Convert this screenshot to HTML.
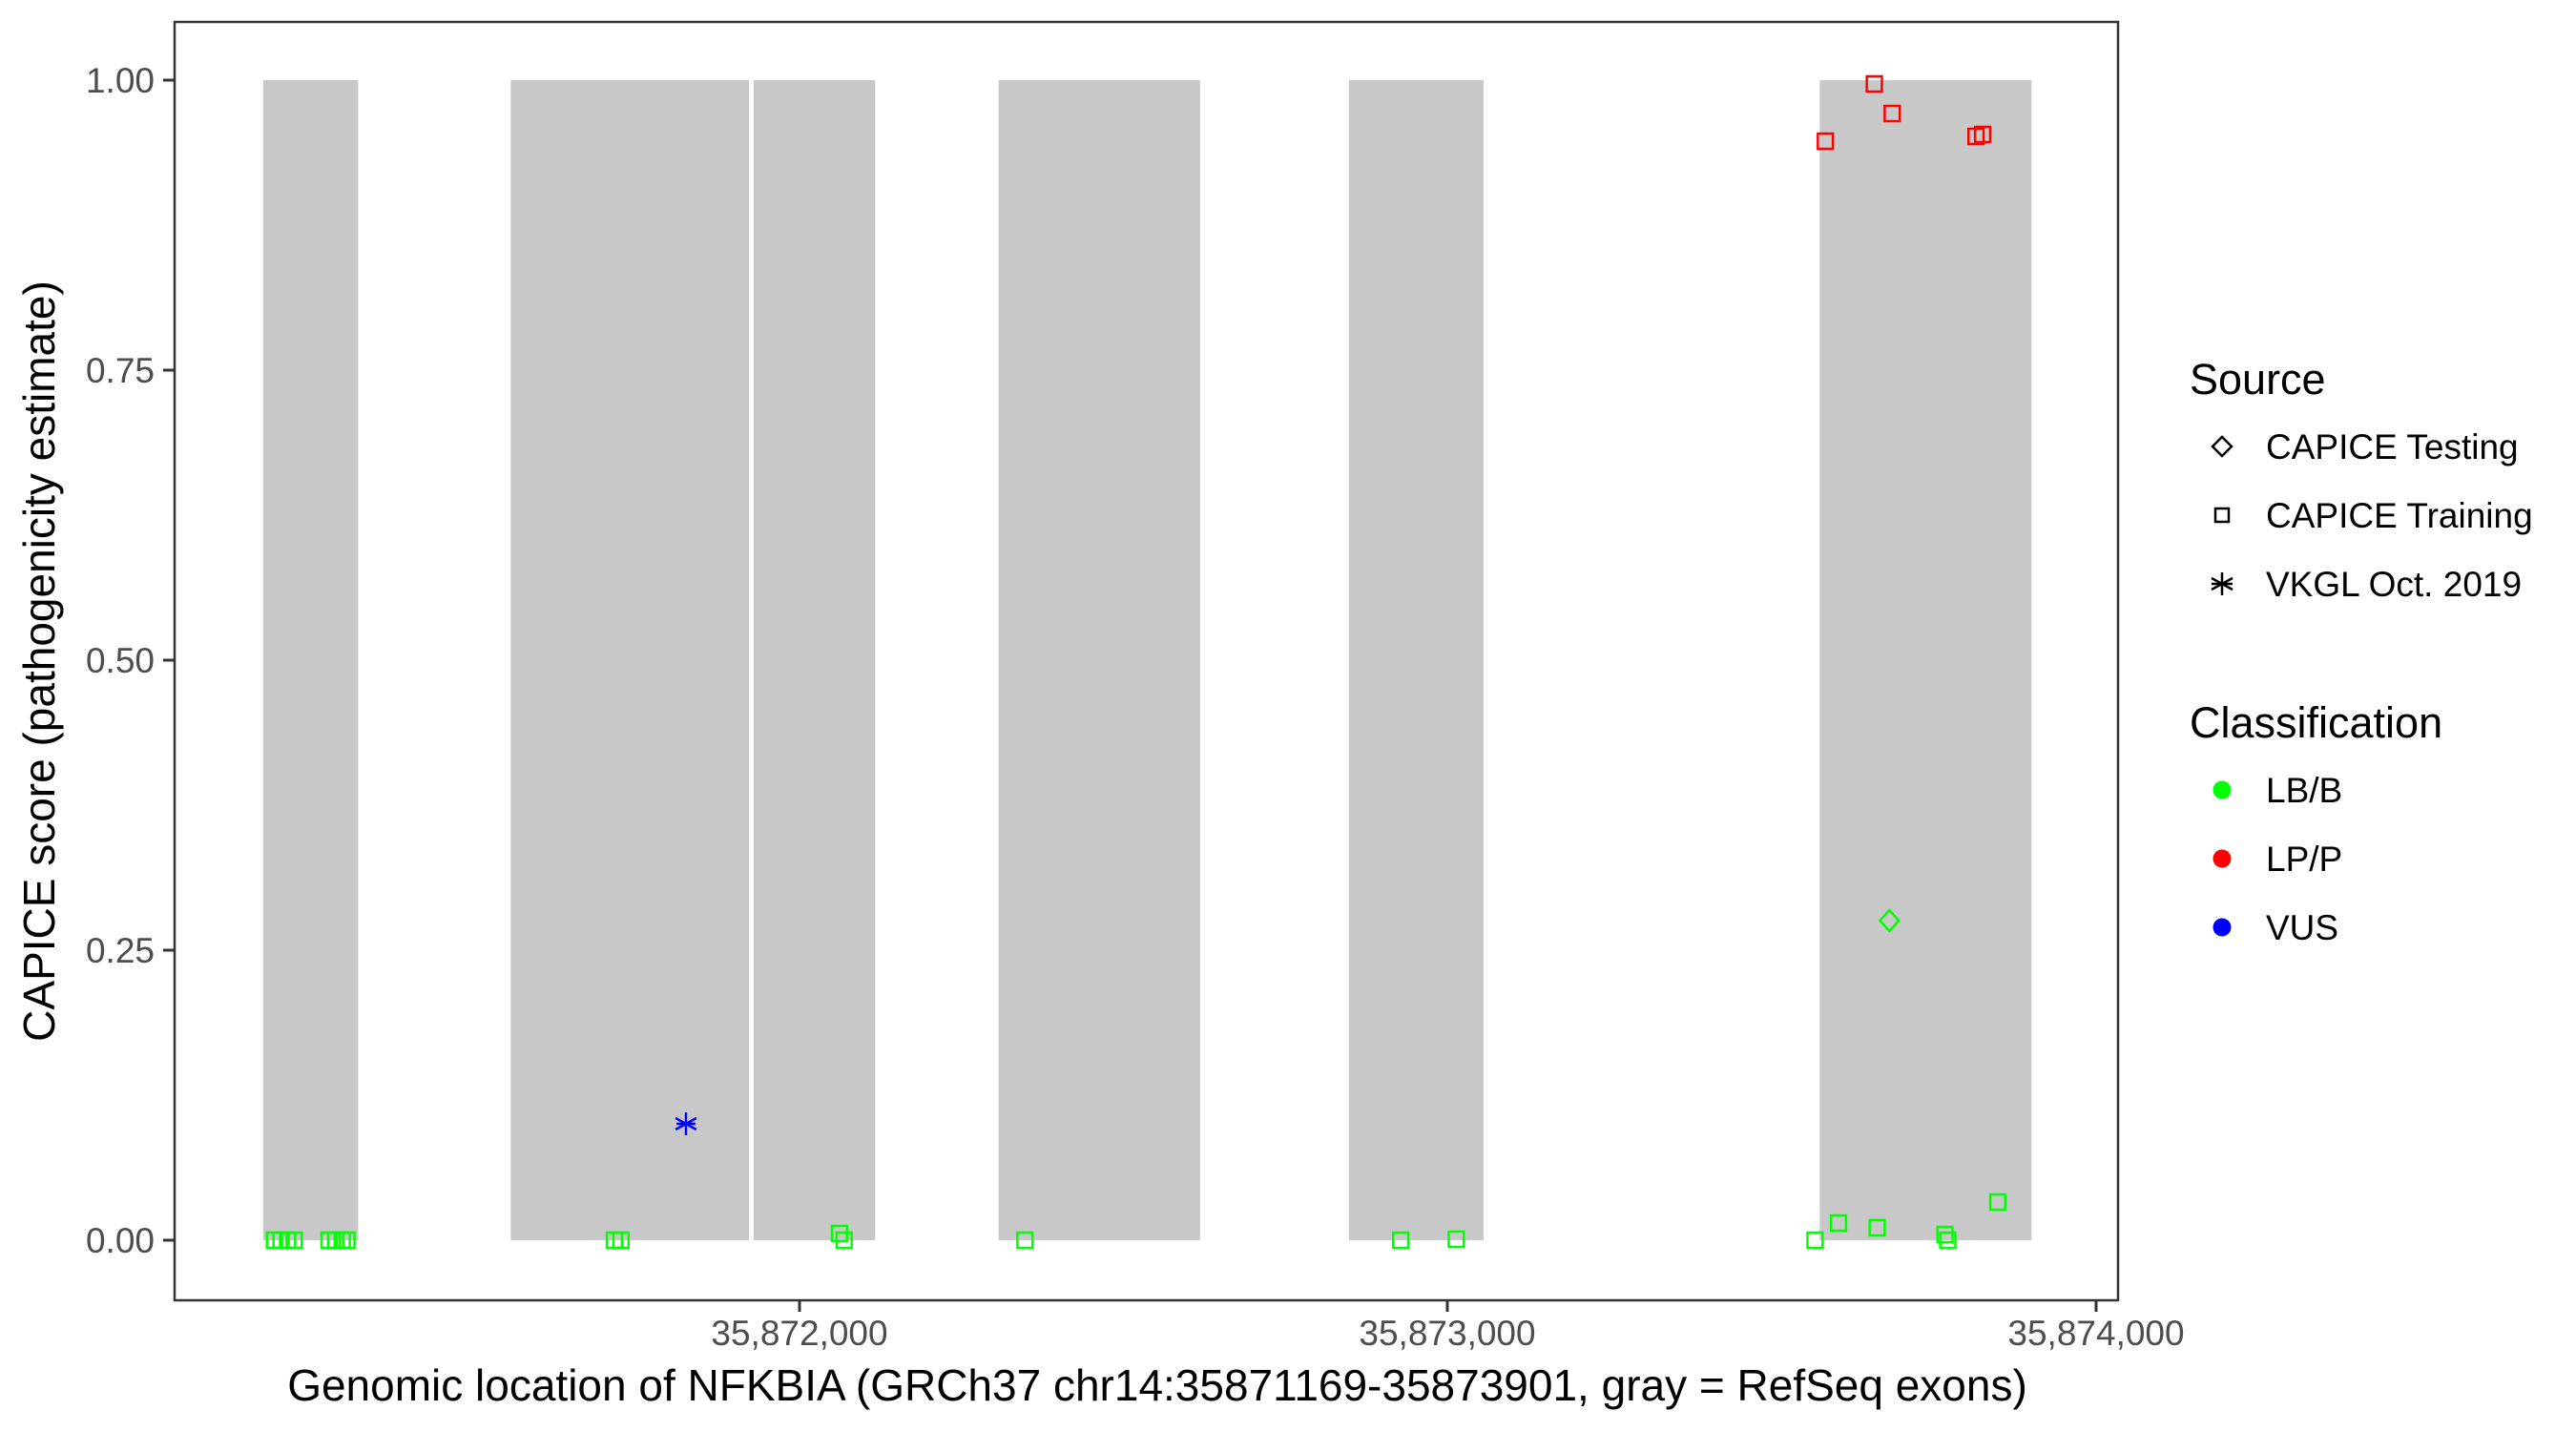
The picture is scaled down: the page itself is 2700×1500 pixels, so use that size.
<!DOCTYPE html>
<html><head><meta charset="utf-8"><style>html,body{margin:0;padding:0;background:#fff}svg{display:block}</style></head>
<body>
<svg width="2700" height="1500" viewBox="0 0 2700 1500" xmlns="http://www.w3.org/2000/svg" font-family="Liberation Sans, Arial, sans-serif">
<rect width="2700" height="1500" fill="#fff"/>
<g transform="translate(185,0) scale(0.987,1) translate(-185,0)">
<g fill="#c8c8c8">
<rect x="277" y="84" width="101" height="1216"/>
<rect x="540" y="84" width="253" height="1216"/>
<rect x="798" y="84" width="129" height="1216"/>
<rect x="1058" y="84" width="214" height="1216"/>
<rect x="1430" y="84" width="143" height="1216"/>
<rect x="1930" y="84" width="225" height="1216"/>
</g>
<g fill="none" stroke-width="2.5">
<g stroke="#00ff00">
<rect x="281" y="1292" width="16" height="16"/><rect x="288" y="1292" width="16" height="16"/><rect x="295" y="1292" width="16" height="16"/><rect x="302" y="1292" width="16" height="16"/>
<rect x="339" y="1292" width="16" height="16"/><rect x="346" y="1292" width="16" height="16"/><rect x="353" y="1292" width="16" height="16"/><rect x="358" y="1292" width="16" height="16"/>
<rect x="642" y="1292" width="16" height="16"/><rect x="649" y="1292" width="16" height="16"/>
<rect x="881" y="1285" width="16" height="16"/><rect x="886" y="1292" width="16" height="16"/>
<rect x="1078" y="1292" width="16" height="16"/>
<rect x="1477" y="1292" width="16" height="16"/><rect x="1536" y="1291" width="16" height="16"/>
<rect x="1917" y="1292" width="16" height="16"/><rect x="1942" y="1274" width="16" height="16"/><rect x="1983" y="1279" width="16" height="16"/>
<rect x="2055" y="1286" width="16" height="16"/><rect x="2058" y="1292" width="16" height="16"/><rect x="2111" y="1252" width="16" height="16"/>
<path d="M2004 954 l10 11 l-10 11 l-10 -11 z"/>
</g>
<g stroke="#ff0000">
<rect x="1928" y="140" width="16" height="16"/><rect x="1980" y="80" width="16" height="16"/><rect x="1999" y="111" width="16" height="16"/>
<rect x="2088" y="135" width="16" height="16"/><rect x="2095" y="133" width="16" height="16"/>
</g>
<g stroke="#0000ff">
<line x1="726" y1="1166" x2="726" y2="1190"/><line x1="715" y1="1172" x2="737" y2="1184"/><line x1="715" y1="1184" x2="737" y2="1172"/><line x1="716" y1="1178" x2="736" y2="1178"/>
</g>
</g>
</g>
<rect x="183" y="23" width="2037" height="1340" fill="none" stroke="#333" stroke-width="2.5"/>
<g stroke="#333" stroke-width="3">
<line x1="171" y1="84" x2="183" y2="84"/><line x1="171" y1="388" x2="183" y2="388"/><line x1="171" y1="692" x2="183" y2="692"/><line x1="171" y1="996" x2="183" y2="996"/><line x1="171" y1="1300" x2="183" y2="1300"/>
<line x1="838" y1="1363" x2="838" y2="1375"/><line x1="1517" y1="1363" x2="1517" y2="1375"/><line x1="2197" y1="1363" x2="2197" y2="1375"/>
</g>
<g font-size="37" fill="#4d4d4d" text-anchor="end">
<text x="162" y="97">1.00</text><text x="162" y="401">0.75</text><text x="162" y="705">0.50</text><text x="162" y="1009">0.25</text><text x="162" y="1313">0.00</text>
</g>
<g font-size="37" fill="#4d4d4d" text-anchor="middle">
<text x="838" y="1410">35,872,000</text><text x="1517" y="1410">35,873,000</text><text x="2197" y="1410">35,874,000</text>
</g>
<text x="1213" y="1468" font-size="46" text-anchor="middle" fill="#000">Genomic location of NFKBIA (GRCh37 chr14:35871169-35873901, gray = RefSeq exons)</text>
<text transform="translate(57,693) rotate(-90)" font-size="46" text-anchor="middle" fill="#000">CAPICE score (pathogenicity estimate)</text>
<text x="2295" y="413" font-size="45" fill="#000">Source</text>
<g font-size="37" fill="#000">
<text x="2375" y="481">CAPICE Testing</text><text x="2375" y="553">CAPICE Training</text><text x="2375" y="625">VKGL Oct. 2019</text>
</g>
<g fill="none" stroke="#000" stroke-width="2.5">
<path d="M2329 458 l10 10 l-10 10 l-10 -10 z"/>
<rect x="2322" y="533" width="14" height="14"/>
<line x1="2329" y1="600" x2="2329" y2="624"/><line x1="2318" y1="606" x2="2340" y2="618"/><line x1="2318" y1="618" x2="2340" y2="606"/><line x1="2318" y1="612" x2="2340" y2="612"/>
</g>
<text x="2295" y="773" font-size="45" fill="#000">Classification</text>
<g font-size="37" fill="#000">
<text x="2375" y="841">LB/B</text><text x="2375" y="913">LP/P</text><text x="2375" y="985">VUS</text>
</g>
<circle cx="2329" cy="828" r="9.5" fill="#00ff00"/>
<circle cx="2329" cy="900" r="9.5" fill="#ff0000"/>
<circle cx="2329" cy="972" r="9.5" fill="#0000ff"/>
</svg>
</body></html>
